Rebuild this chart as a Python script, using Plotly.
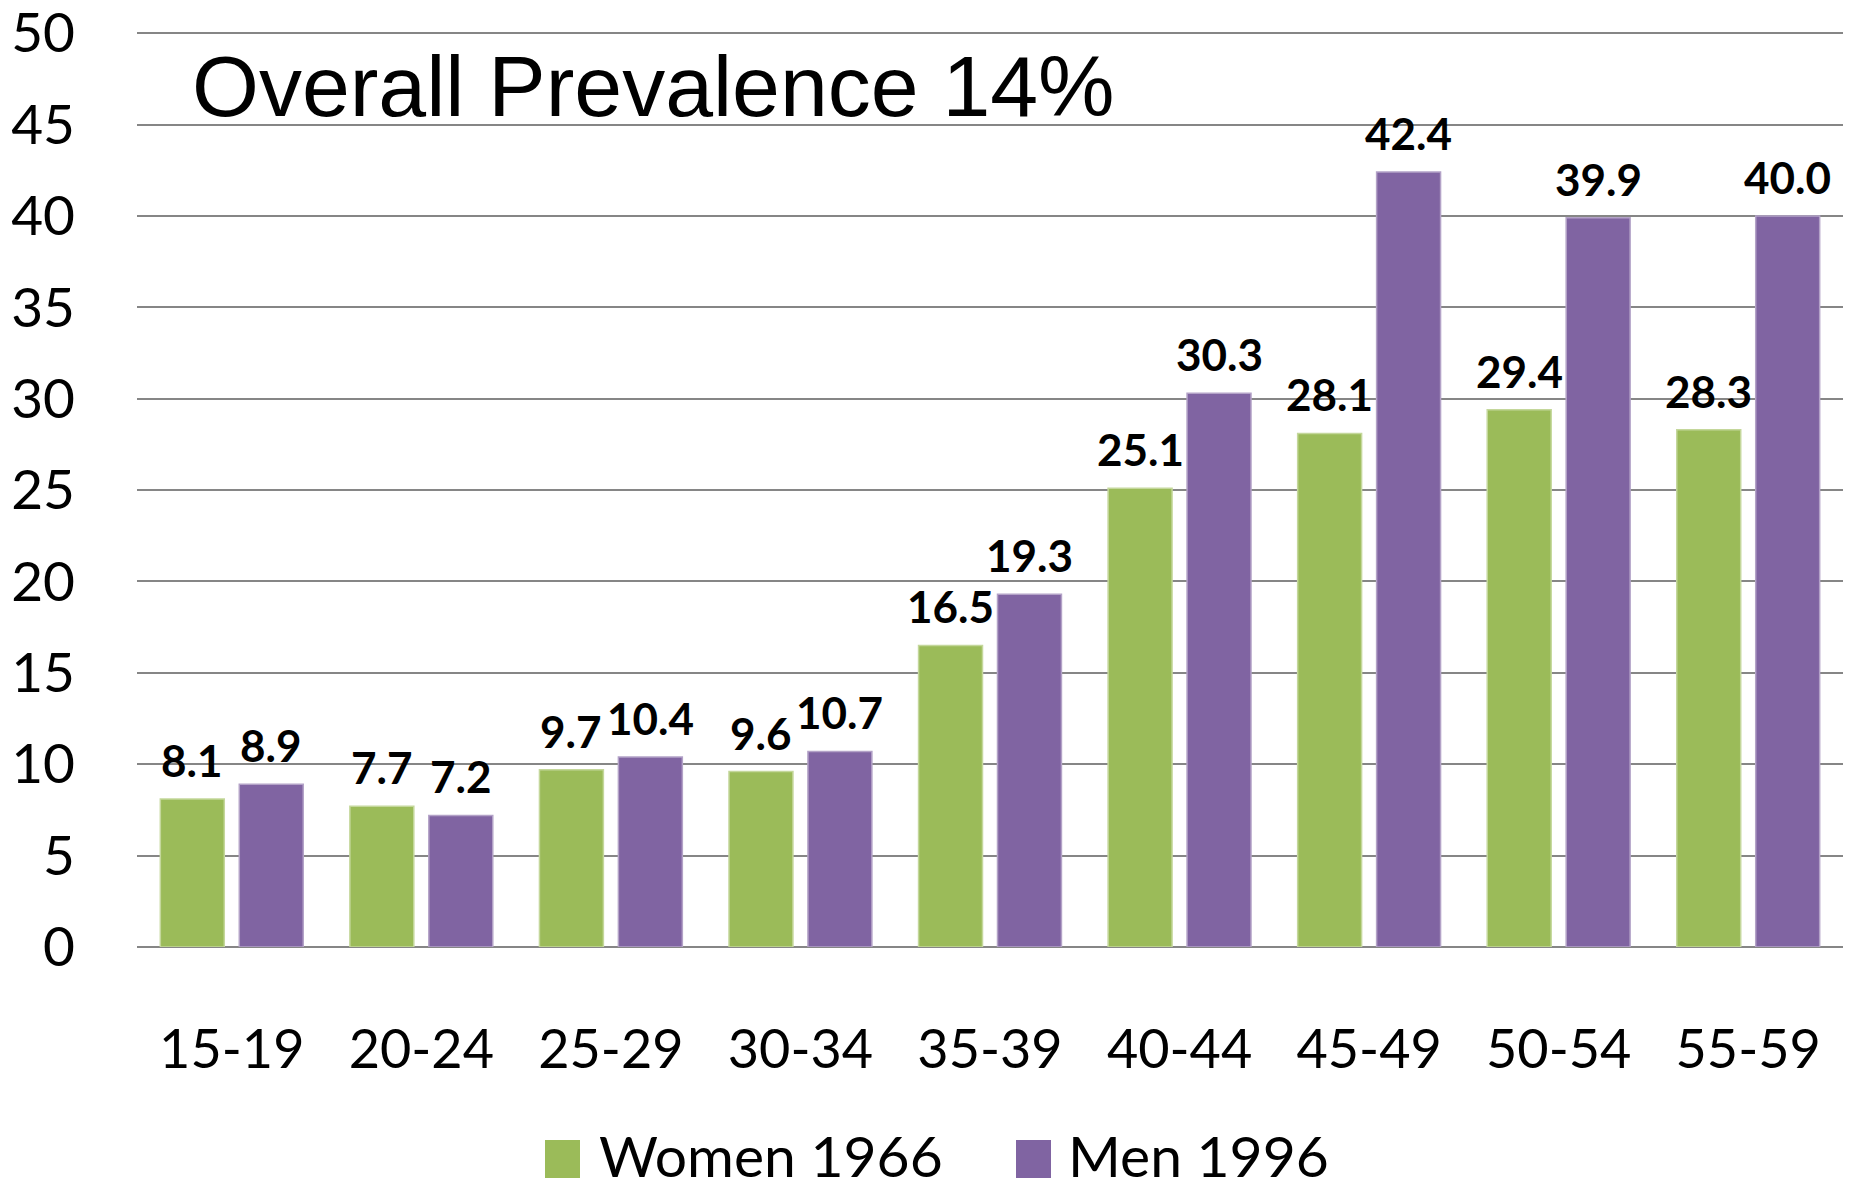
import plotly.graph_objects as go

# Age groups and prevalence (%) by group
age_groups = ["15-19", "20-24", "25-29", "30-34", "35-39", "40-44", "45-49", "50-54", "55-59"]
women_1966 = [8.1, 7.7, 9.7, 9.6, 16.5, 25.1, 28.1, 29.4, 28.3]
men_1996 = [8.9, 7.2, 10.4, 10.7, 19.3, 30.3, 42.4, 39.9, 40.0]
y_ticks = [0, 5, 10, 15, 20, 25, 30, 35, 40, 45, 50]

series_names = ["Women 1966", "Men 1996"]
title_text = "Overall Prevalence 14%"

GREEN = "#9BBB59"
PURPLE = "#8064A2"
GREEN_EDGE = "#C4D79B"
PURPLE_EDGE = "#B3A2C7"
GRID = "#868686"
BODY_FONT = "Lato"

W, H = 1856, 1183
M_L, M_R, M_T, M_B = 137, 13, 24, 236
PW = W - M_L - M_R
PH = H - M_T - M_B
Y_MAX = 50.5

BARGAP = 0.167
BARGROUPGAP = 0.19


def px_x(px):
    return (px - M_L) / PW


def px_y(py):
    return (H - M_B - py) / PH


series = [
    (series_names[0], women_1966, GREEN, GREEN_EDGE),
    (series_names[1], men_1996, PURPLE, PURPLE_EDGE),
]

fig = go.Figure()
for name, vals, col, edge in series:
    fig.add_trace(go.Bar(
        x=age_groups,
        y=vals,
        name=name,
        marker=dict(color=col, line=dict(color=edge, width=1.5)),
        showlegend=False,
    ))

# Value labels above each bar, anchored at the bar's value
cat_w = PW / len(age_groups)
slot_w = cat_w * (1 - BARGAP) / len(series)
for k, (name, vals, col, edge) in enumerate(series):
    shift = (k - (len(series) - 1) / 2) * slot_w
    for cat, v in zip(age_groups, vals):
        fig.add_annotation(
            x=cat, y=v, xref="x", yref="y",
            text=f"{v:.1f}",
            showarrow=False,
            xanchor="center", yanchor="bottom",
            xshift=shift, yshift=11,
            font=dict(family=BODY_FONT, size=44, color="black", weight="bold"),
        )

fig.update_layout(
    width=W,
    height=H,
    margin=dict(l=M_L, r=M_R, t=M_T, b=M_B, autoexpand=False),
    paper_bgcolor="white",
    plot_bgcolor="white",
    barmode="group",
    bargap=BARGAP,
    bargroupgap=BARGROUPGAP,
    font=dict(family=BODY_FONT, color="black"),
    xaxis=dict(
        showgrid=False,
        showline=False,
        ticks="",
        tickfont=dict(family=BODY_FONT, size=54, color="black"),
        ticklabelstandoff=66,
        automargin=False,
    ),
    yaxis=dict(
        range=[0, Y_MAX],
        tickvals=y_ticks,
        showgrid=True,
        gridcolor=GRID,
        gridwidth=2,
        zeroline=True,
        zerolinecolor=GRID,
        zerolinewidth=2,
        showline=False,
        ticks="",
        tickfont=dict(family=BODY_FONT, size=55, color="black"),
        ticklabelstandoff=61,
        ticklabeloverflow="allow",
        automargin=False,
    ),
)

# Chart heading inside the plot area
fig.add_annotation(
    text=title_text,
    xref="paper", yref="paper",
    x=px_x(190), y=px_y(86),
    xanchor="left", yanchor="middle",
    showarrow=False,
    font=dict(family="Liberation Sans", size=86, color="black"),
)

# Legend keys with large square swatches
legend_items = [
    (series_names[0], GREEN, 545, 580, 597),
    (series_names[1], PURPLE, 1016, 1051, 1066),
]
for name, col, sx0, sx1, tx in legend_items:
    fig.add_shape(
        type="rect",
        xref="paper", yref="paper",
        x0=px_x(sx0), x1=px_x(sx1), y0=px_y(1140), y1=px_y(1178),
        fillcolor=col, line=dict(width=0),
    )
    fig.add_annotation(
        text=name,
        xref="paper", yref="paper",
        x=px_x(tx), y=px_y(1155),
        xanchor="left", yanchor="middle",
        showarrow=False,
        font=dict(family=BODY_FONT, size=57, color="black"),
    )

fig.write_html("out.html")
